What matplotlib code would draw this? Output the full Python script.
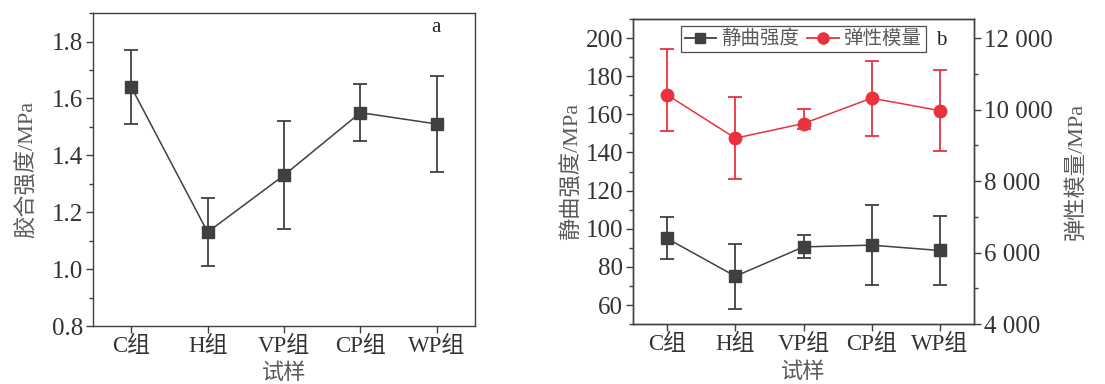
import matplotlib
matplotlib.use('Agg')
import matplotlib.pyplot as plt
from matplotlib.ticker import MultipleLocator, FuncFormatter
from matplotlib.lines import Line2D

plt.rcParams['font.family'] = ['Liberation Serif', 'Noto Sans CJK SC']
plt.rcParams['font.size'] = 18

groups = ['C组', 'H组', 'VP组', 'CP组', 'WP组']

# (a) 胶合强度
bond = [1.64, 1.13, 1.33, 1.55, 1.51]
bond_lo = [1.51, 1.01, 1.14, 1.45, 1.34]
bond_hi = [1.77, 1.25, 1.52, 1.65, 1.68]

# (b) 静曲强度 / 弹性模量
mor = [94.9, 75.1, 90.5, 91.4, 88.6]
mor_lo = [84.0, 58.1, 84.6, 70.7, 70.7]
mor_hi = [106.1, 92.1, 96.8, 112.3, 106.5]

moe = [10410, 9200, 9610, 10320, 9970]
moe_lo = [9400, 8060, 9465, 9270, 8845]
moe_hi = [11690, 10340, 10030, 11370, 11100]

dark = '#404040'
red = '#e8333f'
txt = '#333333'
lbl = '#5a5a5a'
x = list(range(len(groups)))


def err(v, lo, hi):
    return [[a - b for a, b in zip(v, lo)], [b - a for a, b in zip(v, hi)]]


fig = plt.figure(figsize=(11.05, 3.84), dpi=100)
ax1 = fig.add_axes([0.0842, 0.151, 0.3457, 0.815])
ax2 = fig.add_axes([0.5729, 0.156, 0.3085, 0.7945])
ax3 = ax2.twinx()

for ax in (ax1, ax2, ax3):
    for s in ax.spines.values():
        s.set_color(dark)
        s.set_linewidth(1.0)

# panel a
ax1.errorbar(x, bond, yerr=err(bond, bond_lo, bond_hi), color=dark, marker='s',
             markersize=9, linewidth=1.1, elinewidth=1.3, capsize=5, capthick=1.3)
ax1.set_xlim(-0.5, 4.5)
ax1.set_ylim(0.8, 1.9)
ax1.yaxis.set_major_locator(MultipleLocator(0.2))
ax1.yaxis.set_minor_locator(MultipleLocator(0.1))
ax1.yaxis.set_major_formatter(FuncFormatter(lambda v, p: f'{v:.1f}'))
ax1.set_xticks(x)
ax1.set_xticklabels(groups, fontsize=16.5)
ax1.set_ylabel('胶合强度/MPa', color=lbl, fontsize=16, labelpad=10)
ax1.set_xlabel('试样', color=lbl, fontsize=16, va='center')
ax1.xaxis.set_label_coords(0.5, -0.152)
ax1.text(0.898, 0.955, 'a', transform=ax1.transAxes, fontsize=15, color='#222222',
         ha='center', va='center')
ax1.tick_params(axis='both', direction='out', colors=dark, labelcolor=txt, length=5, width=1, pad=2)
ax1.tick_params(axis='y', which='minor', direction='out', length=3, width=1, colors=dark)

# panel b
ax2.errorbar(x, mor, yerr=err(mor, mor_lo, mor_hi), color=dark, marker='s',
             markersize=8, linewidth=1.1, elinewidth=1.3, capsize=5, capthick=1.3)
ax3.errorbar(x, moe, yerr=err(moe, moe_lo, moe_hi), color=red, marker='o',
             markersize=9, linewidth=1.1, elinewidth=1.3, capsize=5, capthick=1.3)
ax2.set_xlim(-0.5, 4.5)
ax2.set_ylim(50, 210)
ax3.set_ylim(4000, 12533)
ax2.yaxis.set_major_locator(MultipleLocator(20))
ax2.yaxis.set_minor_locator(MultipleLocator(10))
ax3.yaxis.set_major_locator(MultipleLocator(2000))
ax3.yaxis.set_minor_locator(MultipleLocator(1000))
ax3.yaxis.set_major_formatter(FuncFormatter(lambda v, p: f'{int(v):,}'.replace(',', ' ')))
ax2.set_xticks(x)
ax2.set_xticklabels(groups, fontsize=16.5)
ax2.set_ylabel('静曲强度/MPa', color=lbl, fontsize=16, labelpad=2)
ax3.set_ylabel('弹性模量/MPa', color=lbl, fontsize=16, labelpad=10)
ax2.set_xlabel('试样', color=lbl, fontsize=16, va='center')
ax2.xaxis.set_label_coords(0.5, -0.16)
ax2.tick_params(axis='both', direction='out', colors=dark, labelcolor=txt, length=5, width=1, pad=2)
ax2.tick_params(axis='y', which='minor', direction='out', length=3, width=1, colors=dark)
ax3.tick_params(axis='y', direction='out', colors=dark, labelcolor=txt, length=5, width=1, pad=2)
ax3.tick_params(axis='y', which='minor', direction='out', length=3, width=1, colors=dark)
ax2.text(0.903, 0.93, 'b', transform=ax2.transAxes, fontsize=15, color='#222222',
         ha='center', va='center')

h1 = Line2D([], [], color=dark, marker='s', markersize=7, linewidth=1.3)
h2 = Line2D([], [], color=red, marker='o', markersize=8, linewidth=1.3)
leg = ax3.legend([h1, h2], ['静曲强度', '弹性模量'], ncol=2, loc='upper left',
                 bbox_to_anchor=(0.14, 0.977), frameon=True, fancybox=False,
                 edgecolor='#222222', fontsize=14, handlelength=1.6,
                 columnspacing=0.4, handletextpad=0.3, borderpad=0.2,
                 borderaxespad=0)
leg.get_frame().set_linewidth(0.9)
for t in leg.get_texts():
    t.set_color(lbl)

fig.savefig('out.png', dpi=100)
